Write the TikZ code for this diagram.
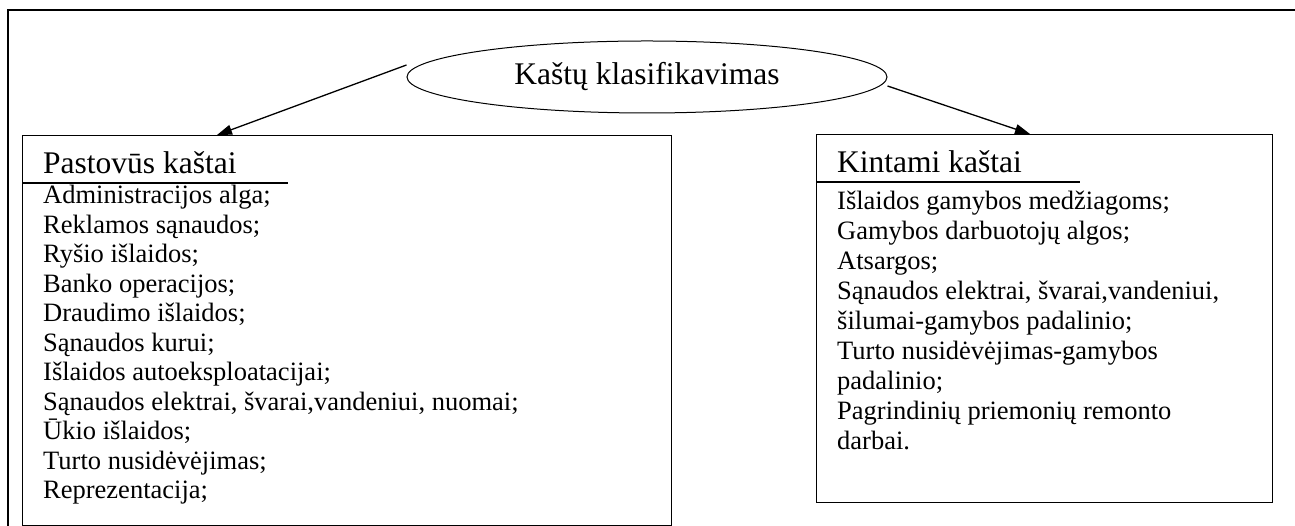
\documentclass[tikz,border=0pt]{standalone}
\usepackage{fontspec}
\setmainfont{Liberation Serif}
\usetikzlibrary{arrows.meta,shapes.geometric}
\begin{document}
\begin{tikzpicture}[x=1pt,y=1pt,
  frame/.style={line width=1.6pt},
  panel/.style={draw, line width=1.3pt, inner sep=0pt, anchor=north west},
  rule/.style={line width=1.3pt},
  head/.style={inner sep=0pt, anchor=base west, font=\fontsize{31.5}{36}\selectfont},
  item/.style={inner sep=0pt, anchor=base west, font=\fontsize{26.5}{29.5}\selectfont},
  link/.style={line width=1.3pt, -{Triangle[length=15pt,width=10pt]}}
]
\useasboundingbox (0,0) rectangle (1295,526);
\fill[white] (0,0) rectangle (1295,526);

% outer frame
\draw[frame] (8,-10) -- (8,516) -- (1297,516) -- (1297,-10);

% title
\node[draw, ellipse, line width=1pt, minimum width=480pt, minimum height=72pt,
      inner sep=0pt, font=\fontsize{31.5}{36}\selectfont] (ell) at (647,449)
      {Kaštų klasifikavimas};

% fixed costs panel
\node[panel, minimum width=649pt, minimum height=390pt] (lbox) at (22,391) {};
\node[head] (lhead) at (43,352) {Pastovūs kaštai};
\draw[rule] ([yshift=-48pt]lbox.north west) -- +(266pt,0);
\foreach \t [count=\i from 0] in {
  {Administracijos alga;},
  {Reklamos sąnaudos;},
  {Ryšio išlaidos;},
  {Banko operacijos;},
  {Draudimo išlaidos;},
  {Sąnaudos kurui;},
  {Išlaidos autoeksploatacijai;},
  {Sąnaudos elektrai, švarai,vandeniui, nuomai;},
  {Ūkio išlaidos;},
  {Turto nusidėvėjimas;},
  {Reprezentacija;}}
  \node[item] (litem\i) at (43,322-29.5*\i) {\t};

% variable costs panel
\node[panel, minimum width=456pt, minimum height=368pt] (rbox) at (816,392) {};
\node[head] (rhead) at (837,353) {Kintami kaštai};
\draw[rule] ([yshift=-48pt]rbox.north west) -- +(264pt,0);
\foreach \t [count=\i from 0] in {
  {Išlaidos gamybos medžiagoms;},
  {Gamybos darbuotojų algos;},
  {Atsargos;},
  {Sąnaudos elektrai, švarai,vandeniui,},
  {šilumai-gamybos padalinio;},
  {Turto nusidėvėjimas-gamybos},
  {padalinio;},
  {Pagrindinių priemonių remonto},
  {darbai.}}
  \node[item] (ritem\i) at (837,316-30*\i) {\t};

% connectors
\coordinate (ls) at ([yshift=12pt]ell.west);
\coordinate (rs) at ([yshift=-9pt]ell.east);
\coordinate (lt) at ([xshift=195pt]lbox.north west);
\coordinate (rt) at ([xshift=214pt]rbox.north west);
\draw[link] (ls) -- (lt);
\draw[link] (rs) -- (rt);
\end{tikzpicture}
\end{document}
